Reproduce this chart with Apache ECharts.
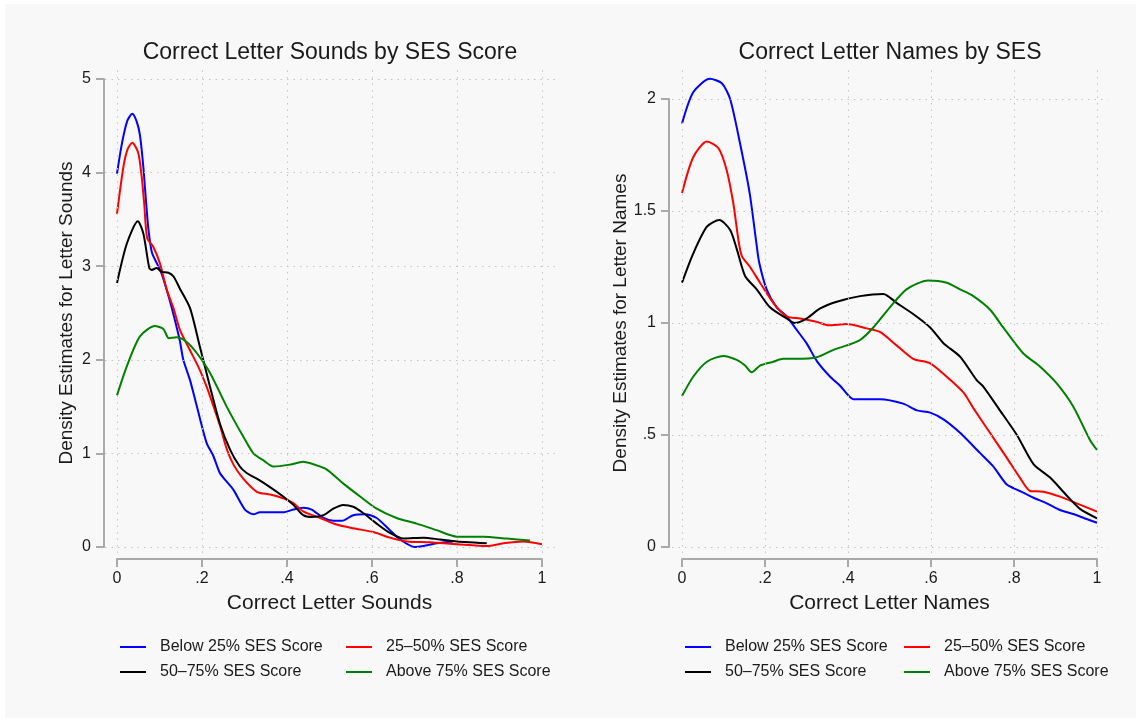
<!DOCTYPE html>
<html>
<head>
<meta charset="utf-8">
<title>Correct Letter Sounds and Names by SES</title>
<script src="https://cdn.jsdelivr.net/npm/echarts@6/dist/echarts.min.js"></script>
<style>
  html, body { margin: 0; padding: 0; background: #ffffff; }
  #chart { width: 1141px; height: 723px; }
</style>
</head>
<body>
<div id="chart"></div>
<script>
// ---- data ----------------------------------------------------------------
const groups = ['Below 25% SES Score', '25–50% SES Score', '50–75% SES Score', 'Above 75% SES Score'];

const xTicks = [0, 0.2, 0.4, 0.6, 0.8, 1];
const soundsTicks = [0, 1, 2, 3, 4, 5];
const namesTicks = [0, 0.5, 1, 1.5, 2];

// Kernel density estimates, proportion of correct letter sounds
const soundsBelow25 = [[0,3.99],[0.012,4.32],[0.024,4.55],[0.036,4.63],[0.046,4.55],[0.054,4.4],[0.062,4.06],[0.068,3.71],[0.074,3.39],[0.082,3.15],[0.095,3.02],[0.105,2.92],[0.12,2.7],[0.132,2.5],[0.148,2.2],[0.156,2.0],[0.172,1.78],[0.188,1.5],[0.211,1.11],[0.226,0.98],[0.242,0.79],[0.254,0.72],[0.274,0.61],[0.301,0.4],[0.321,0.35],[0.336,0.37],[0.391,0.37],[0.415,0.4],[0.438,0.42],[0.458,0.4],[0.486,0.31],[0.509,0.28],[0.529,0.28],[0.556,0.34],[0.584,0.35],[0.611,0.31],[0.642,0.18],[0.666,0.08],[0.701,0.0],[0.721,0.01],[0.752,0.04],[0.791,0.06]];
const sounds25to50 = [[0,3.56],[0.015,4.06],[0.025,4.25],[0.036,4.32],[0.05,4.21],[0.058,3.96],[0.064,3.67],[0.071,3.3],[0.085,3.21],[0.101,3.03],[0.117,2.75],[0.133,2.55],[0.148,2.32],[0.172,2.1],[0.195,1.89],[0.211,1.71],[0.219,1.61],[0.242,1.3],[0.258,1.05],[0.274,0.88],[0.297,0.73],[0.329,0.59],[0.36,0.56],[0.391,0.52],[0.415,0.47],[0.438,0.38],[0.478,0.31],[0.517,0.24],[0.556,0.2],[0.603,0.16],[0.642,0.1],[0.682,0.06],[0.736,0.05],[0.8,0.03],[0.87,0.01],[0.909,0.04],[0.956,0.06],[1.0,0.03]];
const sounds50to75 = [[0,2.82],[0.023,3.24],[0.049,3.48],[0.062,3.35],[0.076,2.98],[0.082,2.96],[0.093,2.98],[0.105,2.94],[0.121,2.93],[0.133,2.89],[0.148,2.76],[0.172,2.55],[0.195,2.14],[0.219,1.71],[0.242,1.32],[0.266,1.04],[0.289,0.86],[0.305,0.79],[0.329,0.73],[0.36,0.64],[0.391,0.54],[0.415,0.45],[0.438,0.34],[0.458,0.32],[0.486,0.34],[0.509,0.41],[0.532,0.45],[0.556,0.43],[0.58,0.36],[0.611,0.25],[0.642,0.15],[0.674,0.09],[0.721,0.1],[0.76,0.08],[0.8,0.06],[0.87,0.04]];
const soundsAbove75 = [[0,1.62],[0.023,1.93],[0.054,2.25],[0.089,2.36],[0.109,2.33],[0.122,2.23],[0.14,2.24],[0.164,2.19],[0.188,2.07],[0.219,1.86],[0.258,1.5],[0.297,1.18],[0.321,1.0],[0.346,0.92],[0.368,0.86],[0.407,0.88],[0.438,0.91],[0.465,0.88],[0.493,0.83],[0.532,0.68],[0.572,0.54],[0.611,0.41],[0.658,0.31],[0.705,0.25],[0.752,0.18],[0.8,0.11],[0.862,0.11],[0.917,0.09],[0.972,0.07]];

// Kernel density estimates, proportion of correct letter names
const namesBelow25 = [[0,1.89],[0.027,2.03],[0.067,2.09],[0.096,2.07],[0.116,2.0],[0.14,1.8],[0.163,1.58],[0.179,1.36],[0.186,1.27],[0.204,1.15],[0.228,1.07],[0.252,1.03],[0.276,0.97],[0.3,0.91],[0.325,0.83],[0.357,0.76],[0.381,0.72],[0.413,0.66],[0.44,0.66],[0.477,0.66],[0.533,0.64],[0.566,0.61],[0.598,0.6],[0.63,0.57],[0.67,0.51],[0.718,0.42],[0.75,0.36],[0.782,0.28],[0.814,0.25],[0.847,0.22],[0.879,0.195],[0.911,0.165],[0.943,0.147],[0.975,0.125],[1.0,0.108]];
const names25to50 = [[0,1.58],[0.027,1.74],[0.06,1.81],[0.088,1.78],[0.108,1.68],[0.124,1.53],[0.136,1.37],[0.144,1.3],[0.164,1.25],[0.188,1.18],[0.22,1.09],[0.252,1.03],[0.284,1.02],[0.325,1.005],[0.353,0.99],[0.397,0.995],[0.445,0.976],[0.477,0.96],[0.517,0.9],[0.557,0.84],[0.598,0.82],[0.638,0.76],[0.678,0.69],[0.702,0.62],[0.742,0.51],[0.782,0.4],[0.814,0.31],[0.839,0.25],[0.871,0.247],[0.911,0.225],[0.951,0.195],[1.0,0.158]];
const names50to75 = [[0,1.18],[0.027,1.31],[0.06,1.43],[0.09,1.46],[0.116,1.415],[0.132,1.33],[0.152,1.21],[0.18,1.15],[0.212,1.07],[0.252,1.02],[0.272,1.0],[0.3,1.02],[0.333,1.065],[0.373,1.095],[0.429,1.12],[0.485,1.13],[0.517,1.09],[0.557,1.04],[0.598,0.98],[0.63,0.91],[0.67,0.85],[0.71,0.745],[0.726,0.716],[0.766,0.61],[0.807,0.5],[0.847,0.37],[0.887,0.31],[0.927,0.23],[0.959,0.17],[1.0,0.128]];
const namesAbove75 = [[0,0.674],[0.027,0.76],[0.06,0.827],[0.1,0.853],[0.132,0.835],[0.152,0.81],[0.168,0.78],[0.188,0.81],[0.22,0.827],[0.244,0.84],[0.276,0.84],[0.325,0.847],[0.365,0.88],[0.397,0.9],[0.429,0.924],[0.461,0.98],[0.501,1.07],[0.541,1.15],[0.593,1.19],[0.638,1.18],[0.67,1.15],[0.702,1.12],[0.742,1.06],[0.774,0.98],[0.822,0.865],[0.863,0.805],[0.903,0.73],[0.943,0.626],[0.983,0.478],[1.0,0.433]];

// ---- styling ---------------------------------------------------------------
const FONT = '"Liberation Sans", Arial, Helvetica, sans-serif';
const TEXT = '#1a1a1a';
const AXIS_GREY = '#a9a9a9';
const GRID_GREY = '#c4c4c4';
const lineColors = ['#0000ff', '#ff0000', '#000000', '#008000'];

// Each panel: "axis" box = exact tick range, "plot" box = padded drawing area
const panels = [
  {
    title: 'Correct Letter Sounds by SES Score',
    xName: 'Correct Letter Sounds',
    yName: 'Density Estimates for Letter Sounds',
    yTicks: soundsTicks, yInterval: 1,
    series: [soundsBelow25, sounds25to50, sounds50to75, soundsAbove75],
    axisBox: { left: 117, top: 79, width: 425, height: 468 },
    plotBox: { left: 105, top: 66, right: 555, bottom: 553 },
    yNameGap: 28,
    legendLeft: [120, 346]
  },
  {
    title: 'Correct Letter Names by SES',
    xName: 'Correct Letter Names',
    yName: 'Density Estimates for Letter Names',
    yTicks: namesTicks, yInterval: 0.5,
    series: [namesBelow25, names25to50, names50to75, namesAbove75],
    axisBox: { left: 682, top: 99, width: 415, height: 448 },
    plotBox: { left: 672, top: 66, right: 1108, bottom: 553 },
    yNameGap: 38,
    legendLeft: [685, 904]
  }
];

const tickFmt = v => {
  const s = String(+v.toFixed(2));
  return s.startsWith('0.') ? s.slice(1) : s;
};

const grid = [], xAxis = [], yAxis = [], series = [], legend = [], graphic = [];

graphic.push({
  type: 'rect', z: -100, silent: true,
  shape: { x: 5, y: 4, width: 1131, height: 714 },
  style: { fill: '#f8f8f8' }
});

panels.forEach((p, pi) => {
  const a = p.axisBox, b = p.plotBox;
  const xMin = xTicks[0], xMax = xTicks[xTicks.length - 1];
  const yMin = p.yTicks[0], yMax = p.yTicks[p.yTicks.length - 1];
  const xPerPx = (xMax - xMin) / a.width;
  const yPerPx = (yMax - yMin) / a.height;

  const plotIdx = pi * 2, axisIdx = pi * 2 + 1;

  // plot grid: padded data range so the dotted grid overruns the axes
  grid.push({
    left: b.left, top: b.top, width: b.right - b.left, height: b.bottom - b.top,
    containLabel: false
  });
  xAxis.push({
    gridIndex: plotIdx, type: 'value', show: false,
    min: xMin - (a.left - b.left) * xPerPx,
    max: xMax + (b.right - (a.left + a.width)) * xPerPx
  });
  yAxis.push({
    gridIndex: plotIdx, type: 'value', show: false,
    min: yMin - (b.bottom - (a.top + a.height)) * yPerPx,
    max: yMax + (a.top - b.top) * yPerPx
  });

  // axis grid: exact tick range, axis lines pushed outward
  grid.push({ left: a.left, top: a.top, width: a.width, height: a.height, containLabel: false });
  xAxis.push({
    gridIndex: axisIdx, type: 'value', min: xMin, max: xMax, interval: 0.2,
    offset: 12,
    axisLine: { show: true, onZero: false, lineStyle: { color: AXIS_GREY, width: 2 } },
    axisTick: { show: true, length: 8, lineStyle: { color: AXIS_GREY, width: 2 } },
    axisLabel: { formatter: tickFmt, margin: 12, fontSize: 16, color: TEXT, fontFamily: FONT },
    splitLine: { show: false },
    name: p.xName, nameLocation: 'middle', nameGap: 34,
    nameTextStyle: { fontSize: 21, color: TEXT, fontFamily: FONT }
  });
  yAxis.push({
    gridIndex: axisIdx, type: 'value', min: yMin, max: yMax, interval: p.yInterval,
    offset: 13,
    axisLine: { show: true, onZero: false, lineStyle: { color: AXIS_GREY, width: 2 } },
    axisTick: { show: true, length: 8, lineStyle: { color: AXIS_GREY, width: 2 } },
    axisLabel: { formatter: tickFmt, margin: 13, fontSize: 16, color: TEXT, fontFamily: FONT },
    splitLine: { show: false },
    name: p.yName, nameLocation: 'middle', nameGap: p.yNameGap,
    nameTextStyle: { fontSize: 19, color: TEXT, fontFamily: FONT }
  });

  // dotted reference grid at the tick values
  series.push({
    type: 'line', xAxisIndex: plotIdx, yAxisIndex: plotIdx, data: [], z: 1,
    silent: true, symbol: 'none',
    markLine: {
      silent: true, symbol: ['none', 'none'], animation: false,
      label: { show: false },
      lineStyle: { color: GRID_GREY, width: 1, type: [1.5, 5] },
      data: xTicks.map(v => ({ xAxis: v })).concat(p.yTicks.map(v => ({ yAxis: v })))
    }
  });

  // density curves
  p.series.forEach((d, si) => {
    series.push({
      name: groups[si], type: 'line', xAxisIndex: plotIdx, yAxisIndex: plotIdx,
      data: d, smooth: 0.25, symbol: 'none', showSymbol: false, z: 3,
      lineStyle: { color: lineColors[si], width: 2 },
      itemStyle: { color: lineColors[si] }
    });
  });

  // two-column legend under each panel
  [[groups[0], groups[2]], [groups[1], groups[3]]].forEach((col, ci) => {
    legend.push({
      data: col, orient: 'vertical', left: p.legendLeft[ci], top: 639,
      padding: 0,
      icon: 'rect', itemWidth: 26, itemHeight: 2, itemGap: 9,
      selectedMode: false,
      textStyle: { fontSize: 16, color: TEXT, fontFamily: FONT, padding: [0, 0, 0, 9] }
    });
  });

  // panel title, centred over the plot area
  graphic.push({
    type: 'text', silent: true,
    x: (b.left + b.right) / 2, y: 53,
    style: {
      text: p.title, fill: TEXT, font: '23px ' + FONT,
      textAlign: 'center', textVerticalAlign: 'middle'
    }
  });
});

const chart = echarts.init(document.getElementById('chart'), null, { renderer: 'canvas' });
chart.setOption({
  backgroundColor: '#ffffff',
  animation: false,
  textStyle: { fontFamily: FONT },
  grid, xAxis, yAxis, series, legend, graphic
});
</script>
</body>
</html>
